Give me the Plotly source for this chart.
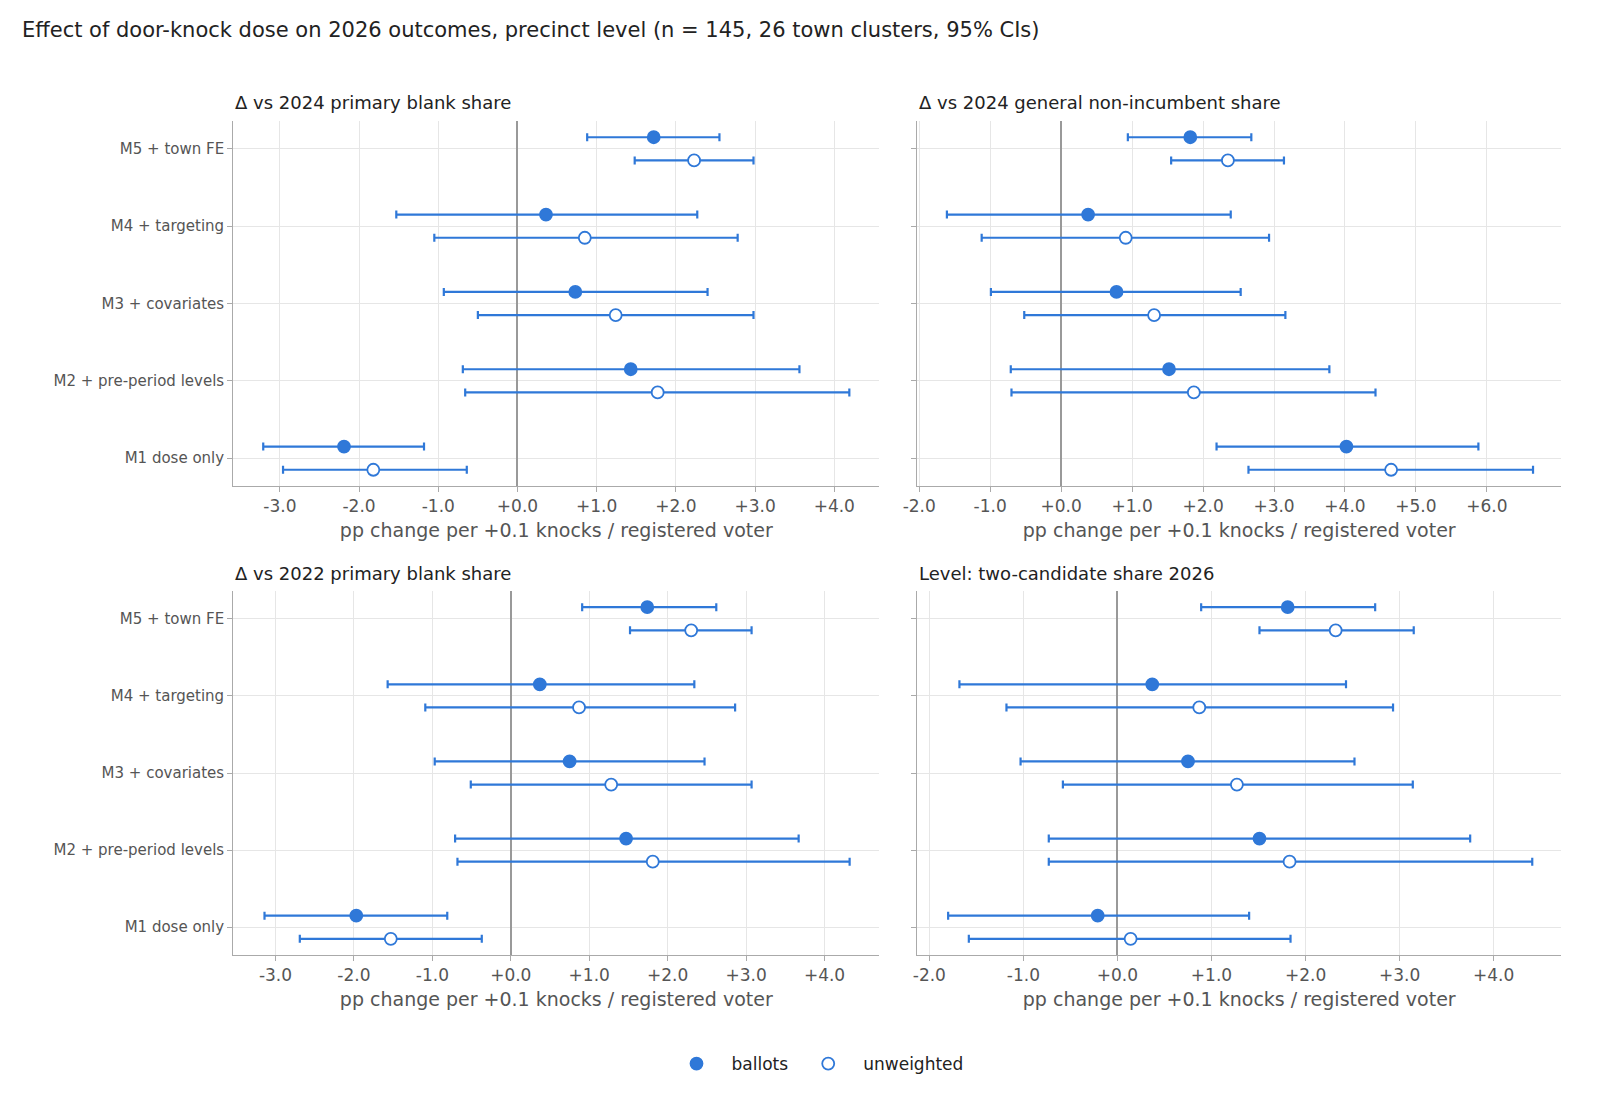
import plotly.graph_objects as go

models = ["M1 dose only", "M2 + pre-period levels", "M3 + covariates", "M4 + targeting", "M5 + town FE"]
panel_titles = ["Δ vs 2024 primary blank share", "Δ vs 2024 general non-incumbent share",
                "Δ vs 2022 primary blank share", "Level: two-candidate share 2026"]

# per panel: [est, lo, hi] for M1..M5
ballots = [
    [[-2.19, -3.21, -1.18], [1.43, -0.69, 3.56], [0.73, -0.93, 2.40], [0.36, -1.53, 2.27], [1.72, 0.88, 2.55]],
    [[4.02, 2.19, 5.88], [1.52, -0.71, 3.78], [0.78, -0.99, 2.53], [0.38, -1.61, 2.39], [1.82, 0.94, 2.68]],
    [[-1.97, -3.14, -0.81], [1.47, -0.71, 3.67], [0.75, -0.97, 2.47], [0.37, -1.57, 2.34], [1.74, 0.91, 2.62]],
    [[-0.21, -1.80, 1.40], [1.51, -0.73, 3.75], [0.75, -1.03, 2.52], [0.37, -1.68, 2.43], [1.81, 0.89, 2.74]],
]
unweighted = [
    [[-1.82, -2.96, -0.64], [1.77, -0.66, 4.19], [1.24, -0.50, 2.98], [0.85, -1.05, 2.78], [2.23, 1.48, 2.98]],
    [[4.65, 2.64, 6.65], [1.87, -0.70, 4.43], [1.31, -0.52, 3.16], [0.91, -1.12, 2.93], [2.35, 1.55, 3.14]],
    [[-1.53, -2.69, -0.37], [1.81, -0.68, 4.32], [1.28, -0.51, 3.07], [0.87, -1.09, 2.86], [2.30, 1.52, 3.07]],
    [[0.14, -1.58, 1.84], [1.83, -0.73, 4.41], [1.27, -0.58, 3.14], [0.87, -1.18, 2.93], [2.32, 1.51, 3.15]],
]
xranges = [[-3.59, 4.57], [-2.03, 7.05], [-3.54, 4.70], [-2.13, 4.72]]
xticks = [list(range(-3, 5)), list(range(-2, 7)), list(range(-3, 5)), list(range(-2, 5))]

W, H = 1600, 1109
px_x = [(213, 865), (903, 1553), (213, 865), (903, 1553)]
px_y = [(113, 478), (113, 478), (583, 947), (583, 947)]
blue = "#2f78d8"
off = 0.15

fig = go.Figure()
layout = {}
for i in range(4):
    xa = "x" if i == 0 else f"x{i+1}"
    ya = "y" if i == 0 else f"y{i+1}"
    for name, data, dy, fill in [("ballots", ballots[i], off, blue), ("unweighted", unweighted[i], -off, "white")]:
        est = [d[0] for d in data]
        lo = [d[0] - d[1] for d in data]
        hi = [d[2] - d[0] for d in data]
        fig.add_trace(go.Scatter(
            x=est, y=[k + dy for k in range(5)], mode="markers", name=name,
            showlegend=(i == 0), legendgroup=name, xaxis=xa, yaxis=ya,
            marker=dict(size=12, color=fill, line=dict(color=blue, width=1.8)),
            error_x=dict(type="data", symmetric=False, array=hi, arrayminus=lo,
                         color=blue, thickness=2.2, width=4)))
    x0, x1 = px_x[i]; y0, y1 = px_y[i]
    key = "" if i == 0 else str(i + 1)
    layout["xaxis" + key] = dict(
        domain=[x0 / W, x1 / W], anchor=ya, range=xranges[i],
        tickvals=xticks[i], ticktext=[f"{v:+.1f}" if v != 0 else "+0.0" for v in xticks[i]],
        showgrid=True, gridcolor="#e6e6e6", zeroline=True, zerolinecolor="#999999", zerolinewidth=1.5,
        showline=True, linecolor="#aaaaaa", ticks="outside", ticklen=5, tickcolor="#aaaaaa",
        tickfont=dict(size=17, color="#555"),
        title=dict(text="pp change per +0.1 knocks / registered voter", font=dict(size=19, color="#555"), standoff=8))
    layout["yaxis" + key] = dict(
        domain=[1 - y1 / H, 1 - y0 / H], anchor=xa, range=[-0.36, 4.36],
        tickvals=list(range(5)), ticktext=models if i % 2 == 0 else [""] * 5,
        showgrid=True, gridcolor="#e6e6e6", zeroline=False,
        showline=True, linecolor="#aaaaaa", ticks="outside", ticklen=5, tickcolor="#aaaaaa",
        tickfont=dict(size=15, color="#555"))
    fig.add_annotation(text=panel_titles[i], x=x0 / W, y=1 - (y0 - 18) / H, xref="paper", yref="paper",
                       xanchor="left", yanchor="middle", showarrow=False, font=dict(size=18, color="#222"))

fig.update_layout(
    **layout, width=W, height=H, margin=dict(l=0, r=0, t=0, b=0),
    plot_bgcolor="white", paper_bgcolor="white",
    font=dict(family="DejaVu Sans"),
    title=dict(text="Effect of door-knock dose on 2026 outcomes, precinct level (n = 145, 26 town clusters, 95% CIs)",
               x=14 / W, xanchor="left", y=1 - 22 / H, yanchor="middle", font=dict(size=21, color="#222")),
    legend=dict(orientation="h", x=0.5, xanchor="center", y=1 - 1056 / H, yanchor="middle",
                font=dict(size=17, color="#222"), itemwidth=60),
)
fig.write_html("out.html")
